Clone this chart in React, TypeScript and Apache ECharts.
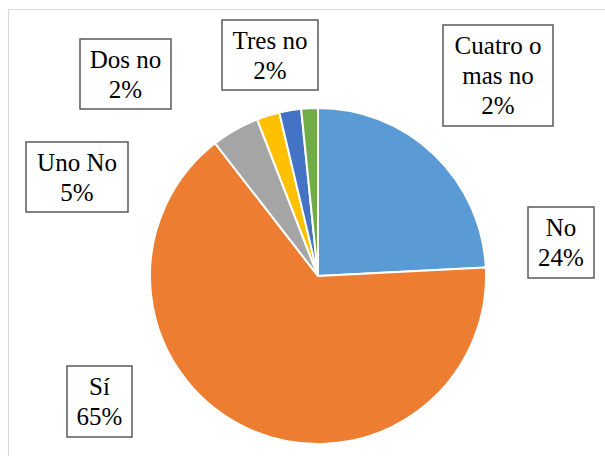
import React, { useEffect, useRef } from "react";
import * as echarts from "echarts";

const categories = ["No", "Sí", "Uno No", "Dos no", "Tres no", "Cuatro o mas no"];
const labelLines = [["No"], ["Sí"], ["Uno No"], ["Dos no"], ["Tres no"], ["Cuatro o", "mas no"]];
const values = [24.2, 65.3, 4.6, 2.2, 2.1, 1.6];
const colors = ["#5B9BD5", "#ED7D31", "#A5A5A5", "#FFC000", "#4472C4", "#70AD47"];
// label boxes (layout): center x, center y, width, height
const labelBox: [number, number, number, number][] = [
  [561, 242.5, 66, 71],
  [99.5, 401.5, 65, 71],
  [77, 177, 102, 70],
  [125.5, 74, 91, 70],
  [270, 55, 96, 70],
  [498, 75.5, 110, 101],
];

const LINE_H = 30;
const TEXT_SCALE = 1.25;

export default function App() {
  const ref = useRef<HTMLDivElement>(null);
  useEffect(() => {
    if (!ref.current) return;
    const chart = echarts.init(ref.current, null, { renderer: "svg" });
    const total = values.reduce((a, b) => a + b, 0);
    const labels = categories.map((c, i) => {
      const [cx, cy, w, h] = labelBox[i];
      const lines = [...labelLines[i], `${Math.round((values[i] / total) * 100)}%`];
      const top = cy - ((lines.length - 1) * LINE_H) / 2;
      return {
        type: "group",
        z: 100,
        silent: true,
        children: [
          {
            type: "rect",
            shape: { x: cx - w / 2, y: cy - h / 2, width: w, height: h },
            style: { fill: "#ffffff", stroke: "#5a5a5a", lineWidth: 1.5 },
          },
          ...lines.map((t, k) => ({
            type: "text",
            x: cx,
            y: top + k * LINE_H,
            scaleX: TEXT_SCALE,
            scaleY: TEXT_SCALE,
            style: {
              text: t,
              fontFamily: "Liberation Serif",
              fontSize: 20,
              fill: "#000000",
              align: "center",
              verticalAlign: "middle",
            },
          })),
        ],
      };
    });
    chart.setOption({
      animation: false,
      backgroundColor: "#ffffff",
      graphic: [
        {
          type: "rect",
          shape: { x: 8.5, y: 9.5, width: 700, height: 600 },
          style: { fill: "none", stroke: "#d9d9d9", lineWidth: 1.2 },
          silent: true,
        },
        ...labels,
      ],
      series: [
        {
          type: "pie",
          center: [318, 276],
          radius: [0, 168],
          startAngle: 90,
          clockwise: true,
          itemStyle: { borderColor: "#ffffff", borderWidth: 2 },
          label: { show: false },
          labelLine: { show: false },
          data: categories.map((c, i) => ({
            name: c,
            value: values[i],
            itemStyle: { color: colors[i] },
          })),
        },
      ],
    });
    return () => chart.dispose();
  }, []);
  return (
    <div
      ref={ref}
      style={{ position: "fixed", left: 0, top: 0, width: 605, height: 456 }}
    />
  );
}
